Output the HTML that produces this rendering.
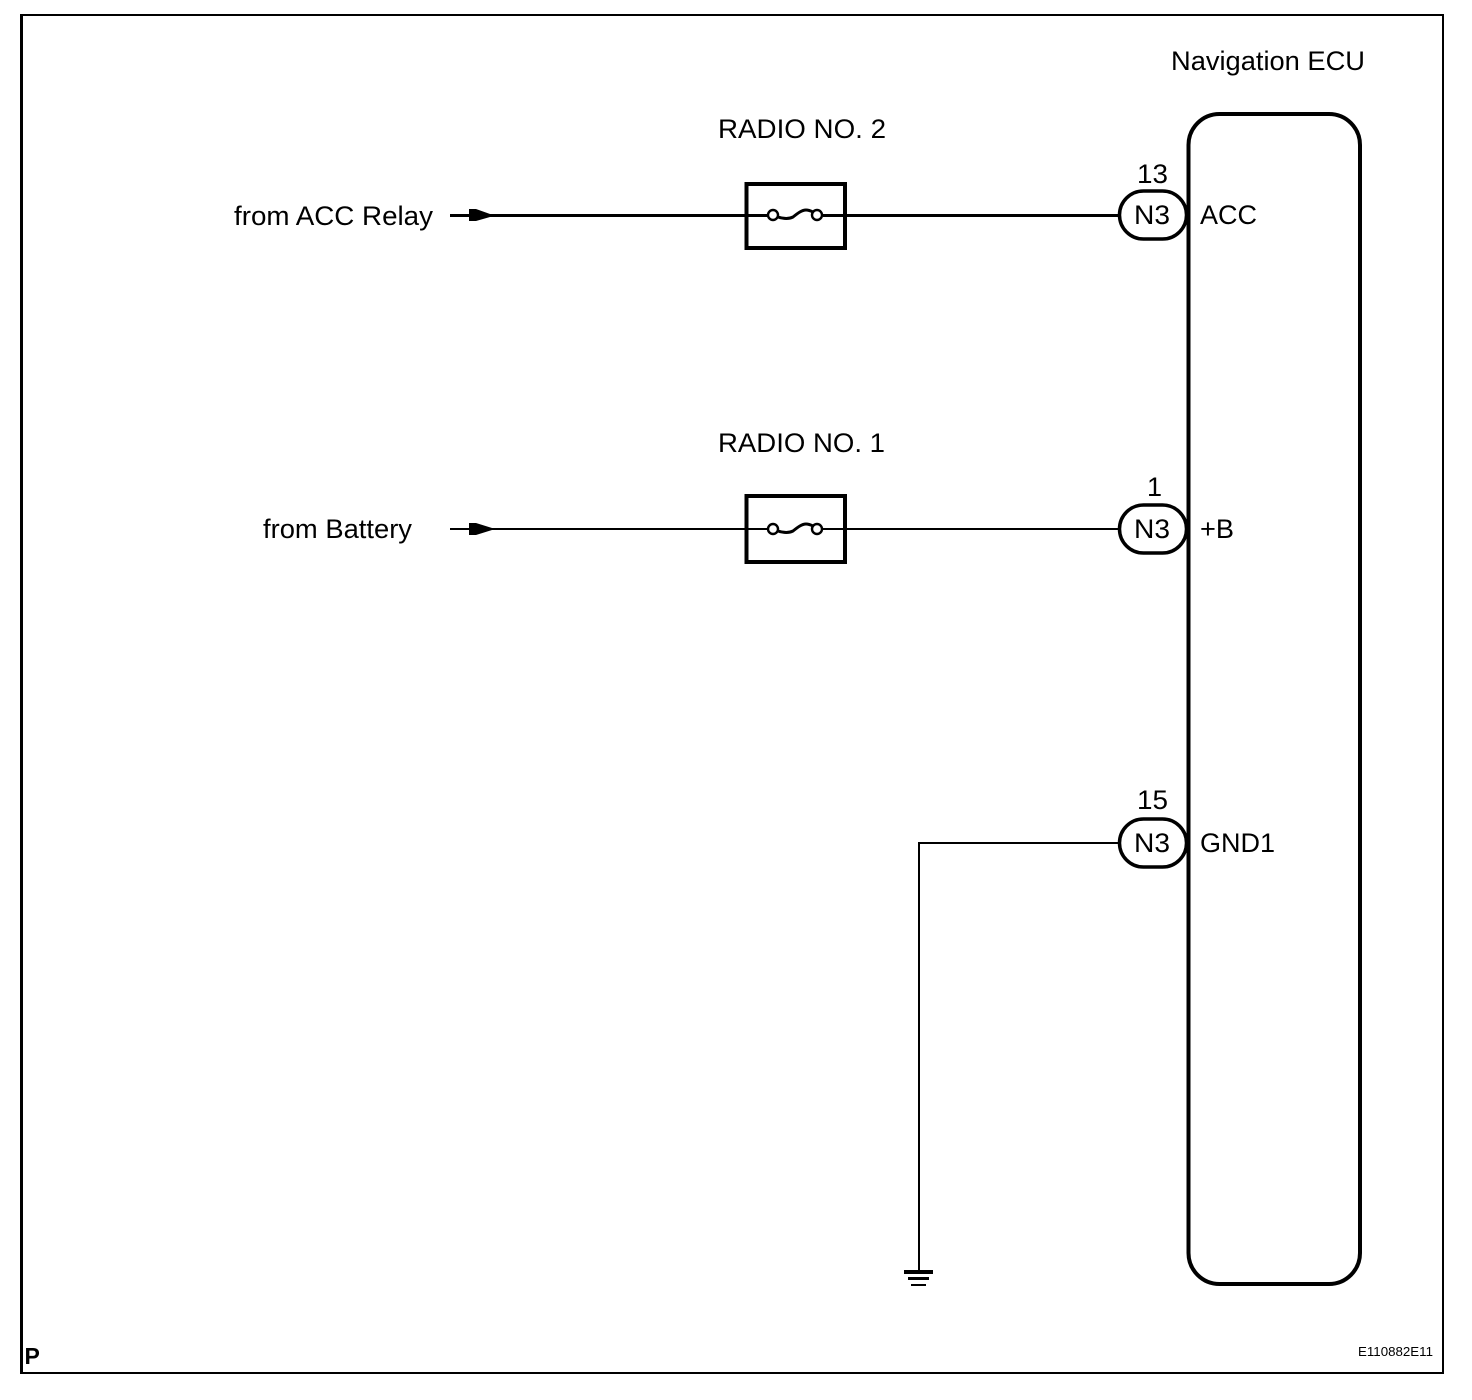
<!DOCTYPE html>
<html>
<head>
<meta charset="utf-8">
<style>
html,body{margin:0;padding:0;background:#fff}
svg{display:block}
text{font-family:"Liberation Sans",sans-serif;font-size:27px;fill:#000}
</style>
</head>
<body>
<svg width="1472" height="1400" viewBox="0 0 1472 1400" xmlns="http://www.w3.org/2000/svg">
<rect width="1472" height="1400" fill="#fff"/>
<!-- frame -->
<g fill="#000" shape-rendering="crispEdges">
<rect x="20" y="14" width="3" height="1360"/>
<rect x="20" y="14" width="1424" height="2"/>
<rect x="1442" y="14" width="2" height="1360"/>
<rect x="20" y="1372" width="1424" height="2"/>
</g>
<!-- ECU -->
<rect x="1188.5" y="114" width="171.5" height="1170" rx="31" ry="31" fill="none" stroke="#000" stroke-width="4"/>
<!-- wires -->
<g fill="#000" shape-rendering="crispEdges">
<rect x="450" y="214" width="318" height="3"/>
<rect x="823" y="214" width="296" height="3"/>
<rect x="450" y="528" width="318" height="2"/>
<rect x="823" y="528" width="296" height="2"/>
<rect x="919" y="842" width="200" height="2"/>
<rect x="918" y="842" width="2" height="430"/>
<rect x="904" y="1270" width="29" height="4"/>
<rect x="908" y="1277" width="21" height="3"/>
<rect x="911" y="1284" width="15" height="2"/>
</g>
<!-- arrows -->
<path d="M469 209 L476 209 L490 214 L490 217 L476 221 L469 221 Z" fill="#000"/>
<path d="M469 523 L476 523 L492 528 L492 530 L476 535 L469 535 Z" fill="#000"/>
<!-- fuses -->
<rect x="746.5" y="184" width="98.5" height="64" fill="none" stroke="#000" stroke-width="4"/>
<path d="M778 217 C784 219 789 219 793 217 C798 213 802 210 806 210 C809 210 811 211 813 212" fill="none" stroke="#000" stroke-width="3"/>
<circle cx="773" cy="215" r="5" fill="#fff" stroke="#000" stroke-width="2.4"/>
<circle cx="817" cy="215" r="5" fill="#fff" stroke="#000" stroke-width="2.4"/>
<rect x="746.5" y="496" width="98.5" height="66" fill="none" stroke="#000" stroke-width="4"/>
<path d="M778 531 C784 533 789 533 793 531 C798 527 802 524 806 524 C809 524 811 525 813 526" fill="none" stroke="#000" stroke-width="3"/>
<circle cx="773" cy="529" r="5" fill="#fff" stroke="#000" stroke-width="2.4"/>
<circle cx="817" cy="529" r="5" fill="#fff" stroke="#000" stroke-width="2.4"/>
<!-- connectors -->
<rect x="1119.5" y="191" width="67" height="48" rx="24" ry="24" fill="#fff" stroke="#000" stroke-width="3.5"/>
<rect x="1119.5" y="505" width="67" height="48" rx="24" ry="24" fill="#fff" stroke="#000" stroke-width="3.5"/>
<rect x="1119.5" y="819" width="67" height="48" rx="24" ry="24" fill="#fff" stroke="#000" stroke-width="3.5"/>
<!-- ECU left edge over connectors -->
<rect x="1187" y="150" width="3.5" height="1100" fill="#000" shape-rendering="crispEdges"/>
<!-- labels -->
<text x="1171" y="70" textLength="194" lengthAdjust="spacingAndGlyphs">Navigation ECU</text>
<text x="718" y="138" textLength="168" lengthAdjust="spacingAndGlyphs">RADIO NO. 2</text>
<text x="718" y="452" textLength="167" lengthAdjust="spacingAndGlyphs">RADIO NO. 1</text>
<text x="234" y="225" textLength="199" lengthAdjust="spacingAndGlyphs">from ACC Relay</text>
<text x="263" y="538" textLength="149" lengthAdjust="spacingAndGlyphs">from Battery</text>
<text x="1137" y="183" textLength="31" lengthAdjust="spacingAndGlyphs">13</text>
<text x="1147" y="496">1</text>
<text x="1137" y="809" textLength="31" lengthAdjust="spacingAndGlyphs">15</text>
<text x="1134" y="224" textLength="36" lengthAdjust="spacingAndGlyphs">N3</text>
<text x="1134" y="538" textLength="36" lengthAdjust="spacingAndGlyphs">N3</text>
<text x="1134" y="852" textLength="36" lengthAdjust="spacingAndGlyphs">N3</text>
<text x="1200" y="224" textLength="57" lengthAdjust="spacingAndGlyphs">ACC</text>
<text x="1200" y="538" textLength="34" lengthAdjust="spacingAndGlyphs">+B</text>
<text x="1200" y="852" textLength="75" lengthAdjust="spacingAndGlyphs">GND1</text>
<text x="24.5" y="1364" style="font-size:23px;font-weight:bold">P</text>
<text x="1358" y="1356" style="font-size:13px" textLength="75" lengthAdjust="spacingAndGlyphs">E110882E11</text>
</svg>
</body>
</html>
